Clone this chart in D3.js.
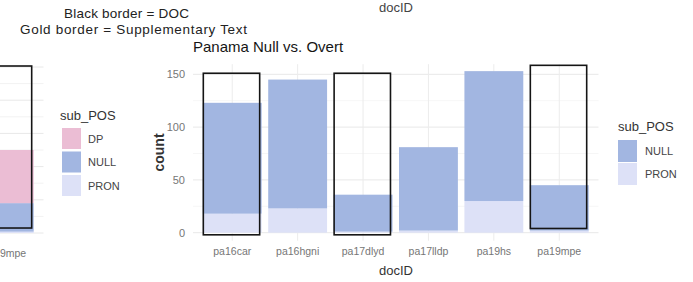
<!DOCTYPE html>
<html lang="en"><head>
<meta charset="utf-8"/>
<title>Panama Null vs. Overt</title>
<script src="https://d3js.org/d3.v7.min.js"></script>
<style>
    body { width: 693px; height: 282px; margin: 0; padding: 0; background: #fff; overflow: hidden;
        font-family: 'Liberation Sans', Arial, sans-serif; }
    svg text { font-family: 'Liberation Sans', Arial, sans-serif; }
</style>
</head>
<body>
<div id="chart"></div>
<script>
    // main chart data
    const docs = ["pa16car", "pa16hgni", "pa17dlyd", "pa17lldp", "pa19hs", "pa19mpe"];
    const nullCounts = [105, 122, 35, 79, 123, 43];
    const pronCounts = [18, 23, 1, 2, 30, 2];
    const yTicks = [0, 50, 100, 150];
    const yMinor = [25, 75, 125];
    // black DOC borders
    const boxedDocs = ["pa16car", "pa17dlyd", "pa19mpe"];
    const boxLow = [-2, -2, 4];
    const boxHigh = [151, 151, 158.5];

    // neighbouring chart, cut off at the left edge
    const leftDocs = ["pa19mpe"];
    const leftDp = [80];
    const leftNull = [43];
    const leftPron = [2];
    const leftBoxLow = [7.5];
    const leftBoxHigh = [251.5];
    const leftGrid = d3.range(0, 251, 25);

    const colors = { DP: "#ebbdd4", NULL: "#a2b6e1", PRON: "#dde1f7" };

    const W = 693, H = 282;
    const svg = d3.select("#chart").append("svg")
        .attr("width", W).attr("height", H);

    // ---------- main chart ----------
    const x = d3.scaleBand().domain(docs).range([193, 598.5])
        .paddingInner(0.1).paddingOuter(0.15);
    const y = d3.scaleLinear().domain([0, 150]).range([232.7, 74.3]);
    const panelTop = y(159.6), panelBottom = y(-7.6);

    const grid = svg.append("g");
    grid.selectAll(".minor").data(yMinor).enter().append("line")
        .attr("x1", 193).attr("x2", 598.5)
        .attr("y1", d => y(d)).attr("y2", d => y(d))
        .attr("stroke", "#f4f4f4").attr("stroke-width", 0.8);
    grid.selectAll(".major").data(yTicks).enter().append("line")
        .attr("x1", 193).attr("x2", 598.5)
        .attr("y1", d => y(d)).attr("y2", d => y(d))
        .attr("stroke", "#e8e8e8").attr("stroke-width", 1);
    grid.selectAll(".vert").data(docs).enter().append("line")
        .attr("x1", d => x(d) + x.bandwidth() / 2).attr("x2", d => x(d) + x.bandwidth() / 2)
        .attr("y1", panelTop).attr("y2", panelBottom)
        .attr("stroke", "#ececec").attr("stroke-width", 1);

    // stacked bars: PRON at the bottom, NULL on top
    const rows = docs.map((d, i) => ({ doc: d, PRON: pronCounts[i], NULL: nullCounts[i] }));
    const stack = d3.stack().keys(["PRON", "NULL"])(rows);
    svg.append("g").selectAll("g").data(stack).enter().append("g")
        .attr("fill", s => colors[s.key])
        .selectAll("rect").data(s => s).enter().append("rect")
        .attr("x", d => x(d.data.doc))
        .attr("width", x.bandwidth())
        .attr("y", d => y(d[1]))
        .attr("height", d => y(d[0]) - y(d[1]));

    // DOC borders
    svg.append("g").selectAll("rect").data(boxedDocs).enter().append("rect")
        .attr("x", d => x(d) + 0.5)
        .attr("width", x.bandwidth() - 2.5)
        .attr("y", (d, i) => y(boxHigh[i]))
        .attr("height", (d, i) => y(boxLow[i]) - y(boxHigh[i]))
        .attr("fill", "none").attr("stroke", "#151515").attr("stroke-width", 1.6);

    // axes (ggplot minimal style: labels only)
    const yAxis = svg.append("g").attr("transform", "translate(185,0)")
        .call(d3.axisLeft(y).tickValues(yTicks).tickSize(0).tickPadding(0));
    yAxis.select(".domain").remove();
    yAxis.selectAll("text").attr("fill", "#767676").style("font-size", "11px");

    const xAxis = svg.append("g").attr("transform", "translate(0,248)")
        .call(d3.axisBottom(x).tickSize(0).tickPadding(0));
    xAxis.select(".domain").remove();
    xAxis.selectAll("text").attr("fill", "#767676").style("font-size", "10.5px");

    svg.append("text").attr("transform", "translate(164,152.5) rotate(-90)")
        .attr("text-anchor", "middle").attr("fill", "#333")
        .style("font-size", "14px").style("font-weight", "bold").text("count");
    svg.append("text").attr("x", 396).attr("y", 275).attr("text-anchor", "middle")
        .attr("fill", "#333").style("font-size", "13px").text("docID");

    svg.append("text").attr("x", 193).attr("y", 52).attr("fill", "#151515")
        .style("font-size", "15px").text("Panama Null vs. Overt");

    // right legend
    const legR = svg.append("g").attr("transform", "translate(618,0)");
    legR.append("text").attr("x", 0).attr("y", 131).attr("fill", "#333")
        .style("font-size", "13px").text("sub_POS");
    ["NULL", "PRON"].forEach((k, i) => {
        legR.append("rect").attr("x", 0).attr("y", 140 + i * 23)
            .attr("width", 19).attr("height", 22).attr("fill", colors[k]);
        legR.append("text").attr("x", 27).attr("y", 155 + i * 23).attr("fill", "#444")
            .style("font-size", "11px").text(k);
    });

    // ---------- partial chart on the left ----------
    const xl = d3.scaleBand().domain(docs).range([-362, 43.5])
        .paddingInner(0.1).paddingOuter(0.15);
    const yl = d3.scaleLinear().domain([0, 250]).range([233, 67]);
    const gl = svg.append("g");
    gl.selectAll(".lgrid").data(leftGrid).enter().append("line")
        .attr("x1", 0).attr("x2", 43.5)
        .attr("y1", d => yl(d)).attr("y2", d => yl(d))
        .attr("stroke", (d, i) => i % 2 ? "#f2f2f2" : "#e8e8e8");
    const lrows = leftDocs.map((d, i) => ({ doc: d, PRON: leftPron[i], NULL: leftNull[i], DP: leftDp[i] }));
    const lstack = d3.stack().keys(["PRON", "NULL", "DP"])(lrows);
    gl.selectAll("g").data(lstack).enter().append("g")
        .attr("fill", s => colors[s.key])
        .selectAll("rect").data(s => s).enter().append("rect")
        .attr("x", d => xl(d.data.doc))
        .attr("width", xl.bandwidth())
        .attr("y", d => yl(d[1]))
        .attr("height", d => yl(d[0]) - yl(d[1]));
    gl.selectAll(".lbox").data(leftDocs).enter().append("rect")
        .attr("x", d => xl(d) + 0.5)
        .attr("width", xl.bandwidth() - 2.5)
        .attr("y", (d, i) => yl(leftBoxHigh[i]))
        .attr("height", (d, i) => yl(leftBoxLow[i]) - yl(leftBoxHigh[i]))
        .attr("fill", "none").attr("stroke", "#151515").attr("stroke-width", 1.6);
    gl.selectAll(".ltick").data(leftDocs).enter().append("text")
        .attr("x", d => xl(d) + xl.bandwidth() / 2).attr("y", 257)
        .attr("text-anchor", "middle").attr("fill", "#767676")
        .style("font-size", "10.5px").text(d => d);

    // left legend
    const legL = svg.append("g").attr("transform", "translate(62,0)");
    legL.append("text").attr("x", -2).attr("y", 120).attr("fill", "#333")
        .style("font-size", "13px").text("sub_POS");
    ["DP", "NULL", "PRON"].forEach((k, i) => {
        legL.append("rect").attr("x", 0).attr("y", 128 + i * 23.5)
            .attr("width", 19).attr("height", 21).attr("fill", colors[k]);
        legL.append("text").attr("x", 26).attr("y", 142.5 + i * 23.5).attr("fill", "#444")
            .style("font-size", "11px").text(k);
    });

    // notes and the cut-off axis title of the chart above
    svg.append("text").attr("x", 126.5).attr("y", 18).attr("text-anchor", "middle")
        .attr("fill", "#222").attr("textLength", 125).style("font-size", "13.5px")
        .text("Black border = DOC");
    svg.append("text").attr("x", 133.5).attr("y", 34).attr("text-anchor", "middle")
        .attr("fill", "#222").attr("textLength", 227).style("font-size", "13.5px")
        .text("Gold border = Supplementary Text");
    svg.append("text").attr("x", 396).attr("y", 12).attr("text-anchor", "middle")
        .attr("fill", "#444").style("font-size", "13px").text("docID");
</script>
</body></html>
